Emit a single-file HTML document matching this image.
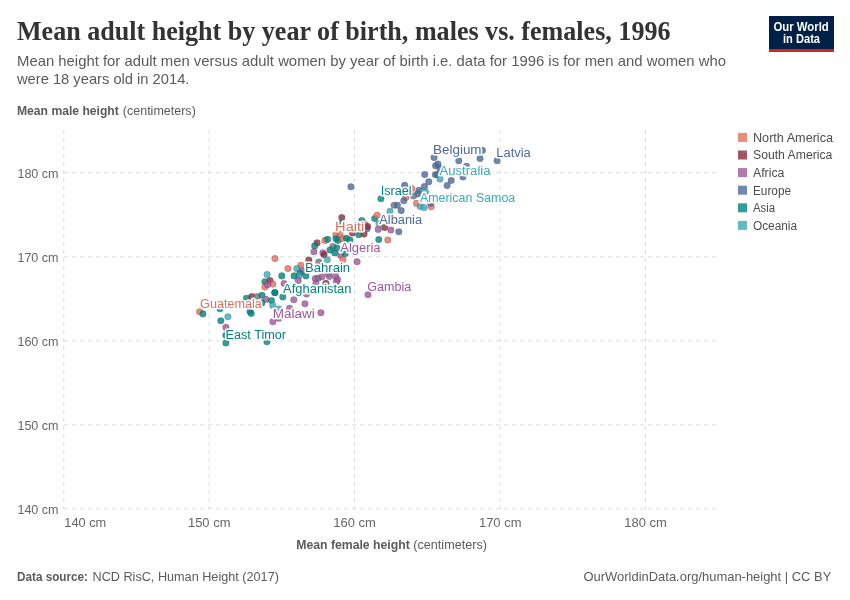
<!DOCTYPE html>
<html><head><meta charset="utf-8"><style>
html,body{margin:0;padding:0;background:#fff;width:850px;height:600px;overflow:hidden}
svg{display:block;will-change:transform}
</style></head><body>
<svg width="850" height="600" viewBox="0 0 850 600">
<rect width="850" height="600" fill="#fff"/>
<text x="17" y="40.4" font-family="Liberation Serif" font-size="27.5" font-weight="bold" fill="#333333" text-anchor="start" textLength="653.5" lengthAdjust="spacingAndGlyphs" >Mean adult height by year of birth, males vs. females, 1996</text>
<text x="17" y="66.1" font-family="Liberation Sans" font-size="14.3" font-weight="normal" fill="#5b5b5b" text-anchor="start" textLength="709" lengthAdjust="spacingAndGlyphs" >Mean height for adult men versus adult women by year of birth i.e. data for 1996 is for men and women who</text>
<text x="17" y="84.1" font-family="Liberation Sans" font-size="14.3" font-weight="normal" fill="#5b5b5b" text-anchor="start" textLength="172.4" lengthAdjust="spacingAndGlyphs" >were 18 years old in 2014.</text>
<text x="17" y="114.8" font-family="Liberation Sans" font-size="12" font-weight="bold" fill="#5b5b5b" text-anchor="start" textLength="101.8" lengthAdjust="spacingAndGlyphs" >Mean male height</text>
<text x="122.8" y="114.8" font-family="Liberation Sans" font-size="12" font-weight="normal" fill="#5b5b5b" text-anchor="start" textLength="73" lengthAdjust="spacingAndGlyphs" >(centimeters)</text>
<text x="296.2" y="548.8" font-family="Liberation Sans" font-size="12" font-weight="bold" fill="#5b5b5b" text-anchor="start" textLength="113.6" lengthAdjust="spacingAndGlyphs" >Mean female height</text>
<text x="413.3" y="548.8" font-family="Liberation Sans" font-size="12" font-weight="normal" fill="#5b5b5b" text-anchor="start" textLength="73.6" lengthAdjust="spacingAndGlyphs" >(centimeters)</text>
<text x="17" y="581.2" font-family="Liberation Sans" font-size="13" font-weight="bold" fill="#5b5b5b" text-anchor="start" textLength="71" lengthAdjust="spacingAndGlyphs" >Data source:</text>
<text x="92.5" y="581.2" font-family="Liberation Sans" font-size="13" font-weight="normal" fill="#5b5b5b" text-anchor="start" textLength="186.4" lengthAdjust="spacingAndGlyphs" >NCD RisC, Human Height (2017)</text>
<text x="583.5" y="581.2" font-family="Liberation Sans" font-size="13" font-weight="normal" fill="#5b5b5b" text-anchor="start" textLength="247.8" lengthAdjust="spacingAndGlyphs" >OurWorldinData.org/human-height | CC BY</text>
<rect x="769" y="16" width="65" height="36" fill="#002147"/>
<rect x="769" y="49" width="65" height="3" fill="#ce261e"/>
<text x="773.5" y="30.6" font-family="Liberation Sans" font-size="12.5" font-weight="bold" fill="#ffffff" text-anchor="start" textLength="55.3" lengthAdjust="spacingAndGlyphs" >Our World</text>
<text x="783" y="42.6" font-family="Liberation Sans" font-size="12" font-weight="bold" fill="#ffffff" text-anchor="start" textLength="37" lengthAdjust="spacingAndGlyphs" >in Data</text>
<g stroke="#dddddd" stroke-width="1" stroke-dasharray="4,4" fill="none"><line x1="63.8" y1="130" x2="63.8" y2="509" /><line x1="209.2" y1="130" x2="209.2" y2="509" /><line x1="354.6" y1="130" x2="354.6" y2="509" /><line x1="500.2" y1="130" x2="500.2" y2="509" /><line x1="645.6" y1="130" x2="645.6" y2="509" /><line x1="64" y1="508.8" x2="716" y2="508.8" /><line x1="64" y1="424.8" x2="716" y2="424.8" /><line x1="64" y1="340.8" x2="716" y2="340.8" /><line x1="64" y1="256.8" x2="716" y2="256.8" /><line x1="64" y1="172.6" x2="716" y2="172.6" /></g>
<text x="58.6" y="513.8" font-family="Liberation Sans" font-size="13" font-weight="normal" fill="#666666" text-anchor="end" textLength="41.2" lengthAdjust="spacingAndGlyphs" >140 cm</text>
<text x="58.6" y="429.8" font-family="Liberation Sans" font-size="13" font-weight="normal" fill="#666666" text-anchor="end" textLength="41.2" lengthAdjust="spacingAndGlyphs" >150 cm</text>
<text x="58.6" y="345.8" font-family="Liberation Sans" font-size="13" font-weight="normal" fill="#666666" text-anchor="end" textLength="41.2" lengthAdjust="spacingAndGlyphs" >160 cm</text>
<text x="58.6" y="261.8" font-family="Liberation Sans" font-size="13" font-weight="normal" fill="#666666" text-anchor="end" textLength="41.2" lengthAdjust="spacingAndGlyphs" >170 cm</text>
<text x="58.6" y="177.6" font-family="Liberation Sans" font-size="13" font-weight="normal" fill="#666666" text-anchor="end" textLength="41.2" lengthAdjust="spacingAndGlyphs" >180 cm</text>
<text x="64.3" y="527.4" font-family="Liberation Sans" font-size="13" font-weight="normal" fill="#666666" text-anchor="start" textLength="42" lengthAdjust="spacingAndGlyphs" >140 cm</text>
<text x="209.2" y="527.4" font-family="Liberation Sans" font-size="13" font-weight="normal" fill="#666666" text-anchor="middle" textLength="42.5" lengthAdjust="spacingAndGlyphs" >150 cm</text>
<text x="354.6" y="527.4" font-family="Liberation Sans" font-size="13" font-weight="normal" fill="#666666" text-anchor="middle" textLength="42.5" lengthAdjust="spacingAndGlyphs" >160 cm</text>
<text x="500.2" y="527.4" font-family="Liberation Sans" font-size="13" font-weight="normal" fill="#666666" text-anchor="middle" textLength="42.5" lengthAdjust="spacingAndGlyphs" >170 cm</text>
<text x="645.6" y="527.4" font-family="Liberation Sans" font-size="13" font-weight="normal" fill="#666666" text-anchor="middle" textLength="42.5" lengthAdjust="spacingAndGlyphs" >180 cm</text>
<g fill-opacity="0.8" stroke="#333" stroke-opacity="0.4" stroke-width="0.5"><circle cx="199.6" cy="311.8" r="3.3" fill="#E56E5A" /><circle cx="202.9" cy="313.9" r="3.3" fill="#00847E" /><circle cx="220.0" cy="308.8" r="3.3" fill="#00847E" /><circle cx="227.9" cy="316.8" r="3.3" fill="#38AABA" /><circle cx="220.8" cy="320.8" r="3.3" fill="#00847E" /><circle cx="225.9" cy="327.4" r="3.3" fill="#A2559C" /><circle cx="225.9" cy="335.3" r="3.3" fill="#00847E" /><circle cx="225.9" cy="342.9" r="3.3" fill="#00847E" /><circle cx="267.0" cy="341.8" r="3.3" fill="#00847E" /><circle cx="250.0" cy="311.5" r="3.3" fill="#00847E" /><circle cx="251.2" cy="313.5" r="3.3" fill="#00847E" /><circle cx="246.5" cy="298.2" r="3.3" fill="#00847E" /><circle cx="251.8" cy="296.5" r="3.3" fill="#883039" /><circle cx="257.1" cy="296.5" r="3.3" fill="#6e7581" /><circle cx="262.0" cy="295.3" r="3.3" fill="#00847E" /><circle cx="265.9" cy="299.4" r="3.3" fill="#A2559C" /><circle cx="261.8" cy="302.9" r="3.3" fill="#00847E" /><circle cx="271.5" cy="300.6" r="3.3" fill="#00847E" /><circle cx="272.8" cy="305.5" r="3.3" fill="#38AABA" /><circle cx="274.8" cy="292.5" r="3.3" fill="#00847E" /><circle cx="282.8" cy="297.0" r="3.3" fill="#00847E" /><circle cx="272.9" cy="321.8" r="3.3" fill="#A2559C" /><circle cx="278.8" cy="318.3" r="3.3" fill="#A2559C" /><circle cx="279.0" cy="309.0" r="3.3" fill="#38AABA" /><circle cx="289.6" cy="308.2" r="3.3" fill="#A2559C" /><circle cx="274.9" cy="258.6" r="3.3" fill="#E56E5A" /><circle cx="288.0" cy="268.6" r="3.3" fill="#E56E5A" /><circle cx="300.9" cy="265.3" r="3.3" fill="#E56E5A" /><circle cx="296.8" cy="268.6" r="3.3" fill="#38AABA" /><circle cx="302.4" cy="270.8" r="3.3" fill="#A2559C" /><circle cx="300.0" cy="273.3" r="3.3" fill="#00847E" /><circle cx="298.8" cy="275.9" r="3.3" fill="#38AABA" /><circle cx="294.1" cy="275.9" r="3.3" fill="#00847E" /><circle cx="305.9" cy="275.9" r="3.3" fill="#00847E" /><circle cx="298.2" cy="280.6" r="3.3" fill="#A2559C" /><circle cx="281.8" cy="275.9" r="3.3" fill="#00847E" /><circle cx="267.1" cy="274.5" r="3.3" fill="#38AABA" /><circle cx="264.9" cy="281.8" r="3.3" fill="#00847E" /><circle cx="270.0" cy="280.6" r="3.3" fill="#883039" /><circle cx="272.9" cy="284.1" r="3.3" fill="#E56E5A" /><circle cx="264.9" cy="287.1" r="3.3" fill="#E56E5A" /><circle cx="267.6" cy="284.7" r="3.3" fill="#A2559C" /><circle cx="284.1" cy="283.5" r="3.3" fill="#A2559C" /><circle cx="274.9" cy="292.7" r="3.3" fill="#00847E" /><circle cx="293.8" cy="299.8" r="3.3" fill="#A2559C" /><circle cx="304.9" cy="303.8" r="3.3" fill="#A2559C" /><circle cx="306.5" cy="294.0" r="3.3" fill="#A2559C" /><circle cx="320.9" cy="312.8" r="3.3" fill="#A2559C" /><circle cx="317.1" cy="242.9" r="3.3" fill="#883039" /><circle cx="314.7" cy="245.9" r="3.3" fill="#00847E" /><circle cx="324.9" cy="240.4" r="3.3" fill="#E56E5A" /><circle cx="313.9" cy="251.8" r="3.3" fill="#A2559C" /><circle cx="322.9" cy="252.9" r="3.3" fill="#A2559C" /><circle cx="324.1" cy="254.7" r="3.3" fill="#883039" /><circle cx="332.9" cy="246.5" r="3.3" fill="#6e7581" /><circle cx="330.0" cy="250.0" r="3.3" fill="#00847E" /><circle cx="334.7" cy="252.9" r="3.3" fill="#00847E" /><circle cx="337.0" cy="248.0" r="3.3" fill="#00847E" /><circle cx="338.0" cy="240.4" r="3.3" fill="#00847E" /><circle cx="308.8" cy="260.0" r="3.3" fill="#883039" /><circle cx="318.8" cy="262.0" r="3.3" fill="#6e7581" /><circle cx="327.3" cy="259.8" r="3.3" fill="#38AABA" /><circle cx="315.3" cy="278.6" r="3.3" fill="#A2559C" /><circle cx="318.2" cy="278.2" r="3.3" fill="#6e7581" /><circle cx="322.0" cy="276.8" r="3.3" fill="#A2559C" /><circle cx="328.2" cy="273.7" r="3.3" fill="#38AABA" /><circle cx="329.4" cy="276.5" r="3.3" fill="#A2559C" /><circle cx="335.6" cy="276.2" r="3.3" fill="#A2559C" /><circle cx="337.6" cy="279.5" r="3.3" fill="#A2559C" /><circle cx="336.5" cy="281.8" r="3.3" fill="#A2559C" /><circle cx="315.9" cy="283.5" r="3.3" fill="#A2559C" /><circle cx="325.9" cy="283.3" r="3.3" fill="#883039" /><circle cx="341.8" cy="217.6" r="3.3" fill="#883039" /><circle cx="341.2" cy="223.5" r="3.3" fill="#00847E" /><circle cx="327.6" cy="239.4" r="3.3" fill="#00847E" /><circle cx="335.9" cy="234.7" r="3.3" fill="#E56E5A" /><circle cx="340.0" cy="234.1" r="3.3" fill="#E56E5A" /><circle cx="335.9" cy="238.8" r="3.3" fill="#00847E" /><circle cx="342.9" cy="238.8" r="3.3" fill="#E56E5A" /><circle cx="346.5" cy="238.2" r="3.3" fill="#00847E" /><circle cx="350.0" cy="240.0" r="3.3" fill="#00847E" /><circle cx="340.6" cy="255.3" r="3.3" fill="#A2559C" /><circle cx="342.9" cy="259.4" r="3.3" fill="#E56E5A" /><circle cx="345.3" cy="253.5" r="3.3" fill="#00847E" /><circle cx="357.1" cy="261.8" r="3.3" fill="#A2559C" /><circle cx="352.4" cy="232.9" r="3.3" fill="#883039" /><circle cx="358.8" cy="234.7" r="3.3" fill="#00847E" /><circle cx="364.1" cy="234.1" r="3.3" fill="#883039" /><circle cx="365.3" cy="224.7" r="3.3" fill="#E56E5A" /><circle cx="367.1" cy="228.8" r="3.3" fill="#4C6A9C" /><circle cx="367.6" cy="226.5" r="3.3" fill="#883039" /><circle cx="361.8" cy="220.6" r="3.3" fill="#00847E" /><circle cx="378.8" cy="239.6" r="3.3" fill="#00847E" /><circle cx="387.8" cy="240.0" r="3.3" fill="#E56E5A" /><circle cx="374.7" cy="218.6" r="3.3" fill="#00847E" /><circle cx="377.1" cy="215.3" r="3.3" fill="#E56E5A" /><circle cx="378.2" cy="229.4" r="3.3" fill="#A2559C" /><circle cx="384.7" cy="227.6" r="3.3" fill="#883039" /><circle cx="379.0" cy="223.5" r="3.3" fill="#38AABA" /><circle cx="390.8" cy="230.0" r="3.3" fill="#A2559C" /><circle cx="398.8" cy="231.8" r="3.3" fill="#4C6A9C" /><circle cx="350.9" cy="186.8" r="3.3" fill="#4C6A9C" /><circle cx="380.9" cy="198.8" r="3.3" fill="#00847E" /><circle cx="424.7" cy="174.6" r="3.3" fill="#4C6A9C" /><circle cx="428.8" cy="181.7" r="3.3" fill="#4C6A9C" /><circle cx="424.4" cy="186.6" r="3.3" fill="#4C6A9C" /><circle cx="419.0" cy="190.4" r="3.3" fill="#4C6A9C" /><circle cx="417.6" cy="194.0" r="3.3" fill="#4C6A9C" /><circle cx="425.6" cy="192.0" r="3.3" fill="#38AABA" /><circle cx="413.5" cy="196.0" r="3.3" fill="#6e7581" /><circle cx="411.8" cy="188.6" r="3.3" fill="#E56E5A" /><circle cx="404.7" cy="185.4" r="3.3" fill="#4C6A9C" /><circle cx="405.9" cy="197.4" r="3.3" fill="#E56E5A" /><circle cx="403.8" cy="200.8" r="3.3" fill="#4C6A9C" /><circle cx="394.1" cy="205.3" r="3.3" fill="#6e7581" /><circle cx="397.4" cy="205.3" r="3.3" fill="#4C6A9C" /><circle cx="401.2" cy="210.6" r="3.3" fill="#4C6A9C" /><circle cx="390.0" cy="211.2" r="3.3" fill="#38AABA" /><circle cx="416.5" cy="203.4" r="3.3" fill="#E56E5A" /><circle cx="420.3" cy="206.5" r="3.3" fill="#38AABA" /><circle cx="424.1" cy="207.6" r="3.3" fill="#38AABA" /><circle cx="431.2" cy="206.8" r="3.3" fill="#E56E5A" /><circle cx="430.6" cy="203.2" r="3.3" fill="#4C6A9C" /><circle cx="435.6" cy="165.8" r="3.3" fill="#4C6A9C" /><circle cx="438.0" cy="164.0" r="3.3" fill="#4C6A9C" /><circle cx="435.4" cy="174.8" r="3.3" fill="#4C6A9C" /><circle cx="434.1" cy="157.6" r="3.3" fill="#4C6A9C" /><circle cx="458.8" cy="160.8" r="3.3" fill="#4C6A9C" /><circle cx="480.0" cy="158.6" r="3.3" fill="#4C6A9C" /><circle cx="482.4" cy="150.4" r="3.3" fill="#4C6A9C" /><circle cx="497.1" cy="160.8" r="3.3" fill="#4C6A9C" /><circle cx="440.0" cy="168.5" r="3.3" fill="#4C6A9C" /><circle cx="466.5" cy="166.2" r="3.3" fill="#4C6A9C" /><circle cx="437.6" cy="174.4" r="3.3" fill="#4C6A9C" /><circle cx="440.0" cy="179.1" r="3.3" fill="#38AABA" /><circle cx="462.9" cy="176.9" r="3.3" fill="#4C6A9C" /><circle cx="451.2" cy="180.5" r="3.3" fill="#4C6A9C" /><circle cx="447.1" cy="185.6" r="3.3" fill="#4C6A9C" /><circle cx="368.0" cy="294.7" r="3.3" fill="#A2559C" /></g>
<text x="433.1" y="154.1" font-family="Liberation Sans" font-size="12" font-weight="normal" fill="#4C6A9C" text-anchor="start" textLength="48.4" lengthAdjust="spacingAndGlyphs" stroke="#fff" stroke-width="3" paint-order="stroke" stroke-linejoin="round">Belgium</text>
<text x="496.3" y="157.4" font-family="Liberation Sans" font-size="12" font-weight="normal" fill="#4C6A9C" text-anchor="start" textLength="34.4" lengthAdjust="spacingAndGlyphs" stroke="#fff" stroke-width="3" paint-order="stroke" stroke-linejoin="round">Latvia</text>
<text x="439.5" y="175.0" font-family="Liberation Sans" font-size="12" font-weight="normal" fill="#38AABA" text-anchor="start" textLength="51.0" lengthAdjust="spacingAndGlyphs" stroke="#fff" stroke-width="3" paint-order="stroke" stroke-linejoin="round">Australia</text>
<text x="380.7" y="195.2" font-family="Liberation Sans" font-size="12" font-weight="normal" fill="#00847E" text-anchor="start" textLength="31.0" lengthAdjust="spacingAndGlyphs" stroke="#fff" stroke-width="3" paint-order="stroke" stroke-linejoin="round">Israel</text>
<text x="419.9" y="201.8" font-family="Liberation Sans" font-size="12" font-weight="normal" fill="#38AABA" text-anchor="start" textLength="95.4" lengthAdjust="spacingAndGlyphs" stroke="#fff" stroke-width="3" paint-order="stroke" stroke-linejoin="round">American Samoa</text>
<text x="379.3" y="223.9" font-family="Liberation Sans" font-size="12" font-weight="normal" fill="#4C6A9C" text-anchor="start" textLength="42.8" lengthAdjust="spacingAndGlyphs" stroke="#fff" stroke-width="3" paint-order="stroke" stroke-linejoin="round">Albania</text>
<text x="335.1" y="230.7" font-family="Liberation Sans" font-size="12" font-weight="normal" fill="#E56E5A" text-anchor="start" textLength="29.2" lengthAdjust="spacingAndGlyphs" stroke="#fff" stroke-width="3" paint-order="stroke" stroke-linejoin="round">Haiti</text>
<text x="340.3" y="251.9" font-family="Liberation Sans" font-size="12" font-weight="normal" fill="#A2559C" text-anchor="start" textLength="40.2" lengthAdjust="spacingAndGlyphs" stroke="#fff" stroke-width="3" paint-order="stroke" stroke-linejoin="round">Algeria</text>
<text x="305.1" y="271.6" font-family="Liberation Sans" font-size="12" font-weight="normal" fill="#00847E" text-anchor="start" textLength="45.0" lengthAdjust="spacingAndGlyphs" stroke="#fff" stroke-width="3" paint-order="stroke" stroke-linejoin="round">Bahrain</text>
<text x="367.3" y="290.6" font-family="Liberation Sans" font-size="12" font-weight="normal" fill="#A2559C" text-anchor="start" textLength="44.0" lengthAdjust="spacingAndGlyphs" stroke="#fff" stroke-width="3" paint-order="stroke" stroke-linejoin="round">Gambia</text>
<text x="283.1" y="292.6" font-family="Liberation Sans" font-size="12" font-weight="normal" fill="#00847E" text-anchor="start" textLength="68.4" lengthAdjust="spacingAndGlyphs" stroke="#fff" stroke-width="3" paint-order="stroke" stroke-linejoin="round">Afghanistan</text>
<text x="272.7" y="318.0" font-family="Liberation Sans" font-size="12" font-weight="normal" fill="#A2559C" text-anchor="start" textLength="42.0" lengthAdjust="spacingAndGlyphs" stroke="#fff" stroke-width="3" paint-order="stroke" stroke-linejoin="round">Malawi</text>
<text x="200.1" y="308.0" font-family="Liberation Sans" font-size="12" font-weight="normal" fill="#E56E5A" text-anchor="start" textLength="61.8" lengthAdjust="spacingAndGlyphs" stroke="#fff" stroke-width="3" paint-order="stroke" stroke-linejoin="round">Guatemala</text>
<text x="225.5" y="339.2" font-family="Liberation Sans" font-size="12" font-weight="normal" fill="#00847E" text-anchor="start" textLength="60.6" lengthAdjust="spacingAndGlyphs" stroke="#fff" stroke-width="3" paint-order="stroke" stroke-linejoin="round">East Timor</text>
<rect x="738" y="132.9" width="9" height="9" fill="#E56E5A" fill-opacity="0.8"/><text x="753" y="141.7" font-family="Liberation Sans" font-size="12" font-weight="normal" fill="#4d4d4d" text-anchor="start" textLength="80" lengthAdjust="spacingAndGlyphs" >North America</text><rect x="738" y="150.5" width="9" height="9" fill="#883039" fill-opacity="0.8"/><text x="753" y="159.3" font-family="Liberation Sans" font-size="12" font-weight="normal" fill="#4d4d4d" text-anchor="start" textLength="79.4" lengthAdjust="spacingAndGlyphs" >South America</text><rect x="738" y="168.1" width="9" height="9" fill="#A2559C" fill-opacity="0.8"/><text x="753" y="176.9" font-family="Liberation Sans" font-size="12" font-weight="normal" fill="#4d4d4d" text-anchor="start" textLength="31.4" lengthAdjust="spacingAndGlyphs" >Africa</text><rect x="738" y="185.7" width="9" height="9" fill="#4C6A9C" fill-opacity="0.8"/><text x="753" y="194.5" font-family="Liberation Sans" font-size="12" font-weight="normal" fill="#4d4d4d" text-anchor="start" textLength="38" lengthAdjust="spacingAndGlyphs" >Europe</text><rect x="738" y="203.3" width="9" height="9" fill="#00847E" fill-opacity="0.8"/><text x="753" y="212.1" font-family="Liberation Sans" font-size="12" font-weight="normal" fill="#4d4d4d" text-anchor="start" textLength="22.2" lengthAdjust="spacingAndGlyphs" >Asia</text><rect x="738" y="220.9" width="9" height="9" fill="#38AABA" fill-opacity="0.8"/><text x="753" y="229.7" font-family="Liberation Sans" font-size="12" font-weight="normal" fill="#4d4d4d" text-anchor="start" textLength="44" lengthAdjust="spacingAndGlyphs" >Oceania</text>
</svg>
</body></html>
